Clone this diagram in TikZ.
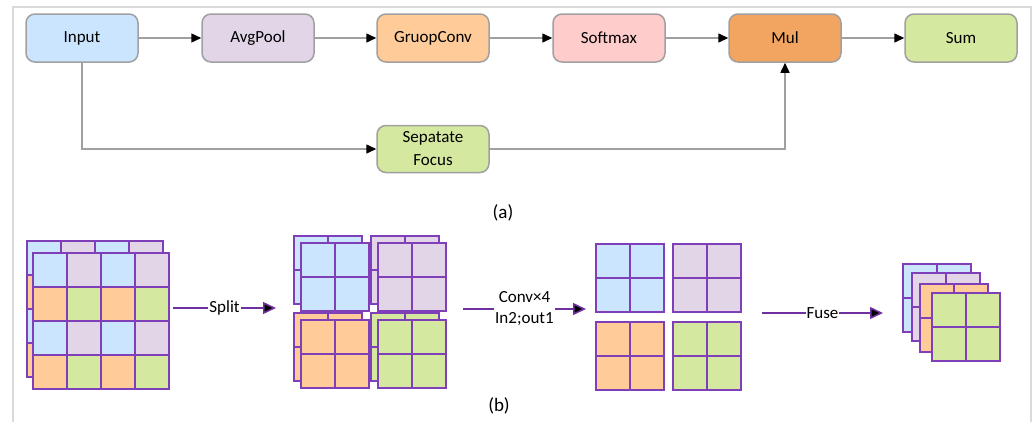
\documentclass[tikz,border=0pt]{standalone}
\usepackage{fontspec}
\setmainfont{Carlito}
\usetikzlibrary{arrows.meta}

\definecolor{cblue}{HTML}{CCE5FF}
\definecolor{cpurple}{HTML}{E1D5E7}
\definecolor{corange}{HTML}{FFCC99}
\definecolor{cpink}{HTML}{FFCCCC}
\definecolor{cmul}{HTML}{F2A461}
\definecolor{cgreen}{HTML}{D5E8A0}
\definecolor{boxline}{HTML}{A0A0A0}
\definecolor{frameline}{HTML}{DADADA}
\definecolor{gridline}{HTML}{7E3FB8}
\definecolor{flowline}{HTML}{7030A0}

% 2x2 tile of one colour, top-left corner at (#1,#2)
\newcommand\quadtile[3]{%
  \fill[#3] (#1,#2) rectangle ++(68,68);
  \draw[cellline] (#1+34,#2) -- ++(0,68);
  \draw[cellline] (#1,#2+34) -- ++(68,0);
  \draw[cellline] (#1,#2) rectangle ++(68,68);
}
% 4x4 checkerboard of the four colours, top-left corner at (#1,#2)
\newcommand\checkboard[2]{%
  \foreach \r in {0,2}{\foreach \c/\col in {0/cblue,1/cpurple,2/cblue,3/cpurple}{
    \fill[\col] (#1+\c*34,#2+\r*34) rectangle ++(34,34);}}
  \foreach \r in {1,3}{\foreach \c/\col in {0/corange,1/cgreen,2/corange,3/cgreen}{
    \fill[\col] (#1+\c*34,#2+\r*34) rectangle ++(34,34);}}
  \foreach \k in {1,2,3}{
    \draw[cellline] (#1+\k*34,#2) -- ++(0,136);
    \draw[cellline] (#1,#2+\k*34) -- ++(136,0);}
  \draw[cellline] (#1,#2) rectangle ++(136,136);
}

\begin{document}
\begin{tikzpicture}[x=1pt,y=-1pt,
  every node/.style={font=\fontsize{17}{21}\selectfont},
  opbox/.style={draw=boxline, line width=1.5pt, rounded corners=9pt,
    minimum width=112pt, minimum height=48pt, align=center, inner sep=0pt},
  link/.style={draw=boxline, line width=1.5pt,
    -{Triangle[color=black,length=10pt,width=9pt]}},
  flow/.style={draw=flowline, line width=1.5pt,
    -{Triangle[fill=black,length=13pt,width=12pt]}},
  tag/.style={fill=white, inner sep=1pt},
  caption/.style={font=\fontsize{19}{22}\selectfont},
  cellline/.style={draw=gridline, line width=1.2pt},
]
\useasboundingbox (0,0) rectangle (1036,421);

% outer frame, open at the bottom
\draw[frameline, line width=1.2pt] (13,430) -- (13,7) -- (1031,7) -- (1031,430);

% ---- (a) attention pipeline ----
\node[opbox, fill=cblue]   (input) at (82,38)  {Input};
\node[opbox, fill=cpurple] (avg)   at (258,38) {AvgPool};
\node[opbox, fill=corange] (gconv) at (433,38) {GruopConv};
\node[opbox, fill=cpink]   (soft)  at (609,38) {Softmax};
\node[opbox, fill=cmul]    (mul)   at (785,38) {Mul};
\node[opbox, fill=cgreen]  (sum)   at (961,38) {Sum};
\node[opbox, fill=cgreen, minimum height=47pt, font=\fontsize{17}{23}\selectfont]
  (sep) at (433,149) {Sepatate\\Focus};

\draw[link] (input) -- (avg);
\draw[link] (avg) -- (gconv);
\draw[link] (gconv) -- (soft);
\draw[link] (soft) -- (mul);
\draw[link] (mul) -- (sum);
\draw[link] (input.south) |- (sep.west);
\draw[link] (sep.east) -| (mul.south);

\node[caption] (capa) at (503,213) {(a)};

% ---- (b) split / convolve / fuse ----
% input feature map, two stacked layers
\checkboard{27}{241}
\checkboard{33}{253}

\coordinate (splitA) at (173,308);
\coordinate (splitB) at (276,308);
\draw[flow] (splitA) -- node[tag] (splitlbl) {Split} (splitB);

% four split groups, two layers each
\quadtile{294}{236}{cblue}   \quadtile{301}{243}{cblue}
\quadtile{371}{236}{cpurple} \quadtile{378}{243}{cpurple}
\quadtile{294}{313}{corange} \quadtile{301}{320}{corange}
\quadtile{371}{313}{cgreen}  \quadtile{378}{320}{cgreen}

\coordinate (convA) at (463,309);
\coordinate (convB) at (586,309);
\draw[flow] (convA) -- node[tag, align=center] (convlbl) {Conv×4\\In2;out1} (convB);

% four convolved groups, one layer each
\quadtile{596}{244}{cblue}
\quadtile{673}{244}{cpurple}
\quadtile{596}{322}{corange}
\quadtile{673}{322}{cgreen}

\coordinate (fuseA) at (762,313);
\coordinate (fuseB) at (883,313);
\draw[flow] (fuseA) -- node[tag] (fuselbl) {Fuse} (fuseB);

% fused stack
\quadtile{903}{264}{cblue}
\quadtile{912}{273}{cpurple}
\quadtile{920}{284}{corange}
\quadtile{932}{293}{cgreen}

\node[caption] (capb) at (499,406) {(b)};
\end{tikzpicture}
\end{document}
